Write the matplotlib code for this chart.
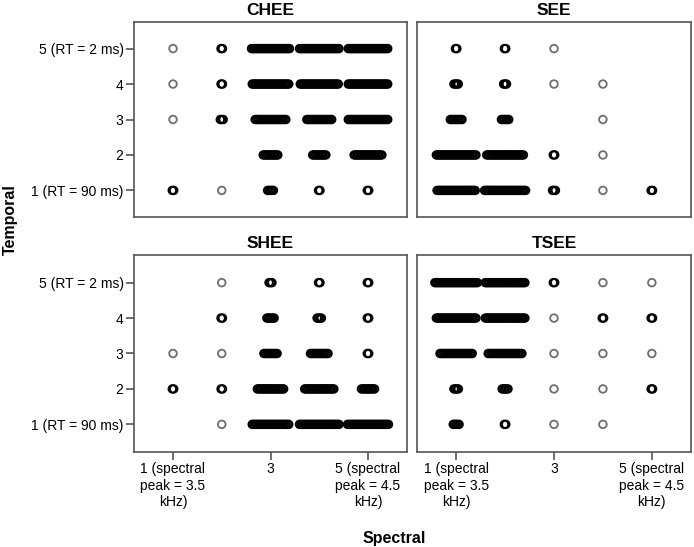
import numpy as np
import matplotlib.pyplot as plt

plt.rcParams['font.family'] = ['Liberation Sans', 'DejaVu Sans']

# number of responses per cell, rows = temporal 1..5, columns = spectral 1..5
panels = ['CHEE', 'SEE', 'SHEE', 'TSEE']
chee_counts = [[2, 1, 5, 2, 2],
               [0, 0, 11, 10, 20],
               [1, 3, 22, 18, 28],
               [1, 2, 26, 27, 28],
               [1, 2, 27, 28, 28]]
see_counts = [[27, 29, 3, 1, 2],
              [28, 26, 2, 1, 0],
              [9, 6, 0, 1, 0],
              [4, 3, 1, 1, 0],
              [2, 2, 1, 0, 0]]
shee_counts = [[0, 1, 26, 28, 29],
               [2, 2, 19, 21, 10],
               [1, 1, 10, 13, 2],
               [0, 2, 6, 4, 2],
               [0, 1, 3, 2, 2]]
tsee_counts = [[5, 2, 1, 1, 0],
               [4, 5, 1, 1, 2],
               [23, 24, 1, 1, 1],
               [28, 28, 1, 2, 2],
               [30, 28, 2, 1, 1]]
all_counts = [chee_counts, see_counts, shee_counts, tsee_counts]

spectral_levels = [1, 2, 3, 4, 5]
temporal_levels = [1, 2, 3, 4, 5]
x_ticks = [1, 3, 5]
x_ticklabels = ['1 (spectral\npeak = 3.5\nkHz)', '3', '5 (spectral\npeak = 4.5\nkHz)']
y_ticklabels = ['1 (RT = 90 ms)', '2', '3', '4', '5 (RT = 2 ms)']

W, H = 694, 547
fig = plt.figure(figsize=(W / 100, H / 100), dpi=100)

# panel boxes in pixels: left, top, right, bottom
boxes = [(134, 22, 407, 217), (417, 22, 691, 217),
         (134, 255, 407, 452), (417, 255, 691, 452)]
step = 0.03
frame_col = '#555555'

for k, name in enumerate(panels):
    l, t, r, b = boxes[k]
    ax = fig.add_axes([l / W, 1 - b / H, (r - l) / W, (b - t) / H])
    counts = all_counts[k]
    for i, tv in enumerate(temporal_levels):
        for j, sv in enumerate(spectral_levels):
            n = counts[i][j]
            if n == 0:
                continue
            # stack the responses sideways so wide bars mean many responses
            xs = sv + (np.arange(n) - (n - 1) / 2) * step
            col = '#6e6e6e' if n == 1 else 'black'
            ax.scatter(xs, np.full(n, tv), s=30, facecolors='none',
                       edgecolors=col, linewidths=1.3)
    ax.set_xlim(0.2, 5.8)
    if k < 2:
        ax.set_ylim(0.25, 5.75)
    else:
        ax.set_ylim(0.22, 5.78)
    for sp in ax.spines.values():
        sp.set_color(frame_col)
        sp.set_linewidth(1.2)
    ax.set_title(name, fontsize=12.5, fontweight='bold', pad=5)
    ax.tick_params(colors=frame_col, labelcolor='black', length=6, width=1.2,
                   labelsize=10, pad=1.5)
    if k % 2 == 0:
        ax.set_yticks(temporal_levels)
        ax.set_yticklabels(y_ticklabels)
    else:
        ax.set_yticks([])
    if k >= 2:
        ax.set_xticks(x_ticks)
        ax.set_xticklabels(x_ticklabels)
    else:
        ax.set_xticks([])

fig.text(10 / W, 1 - 220 / H, 'Temporal', rotation=90, ha='center', va='center',
         fontsize=11.5, fontweight='bold')
fig.text(394 / W, 1 - 538 / H, 'Spectral', ha='center', va='center',
         fontsize=11.5, fontweight='bold')

fig.savefig('out.png', dpi=100)
